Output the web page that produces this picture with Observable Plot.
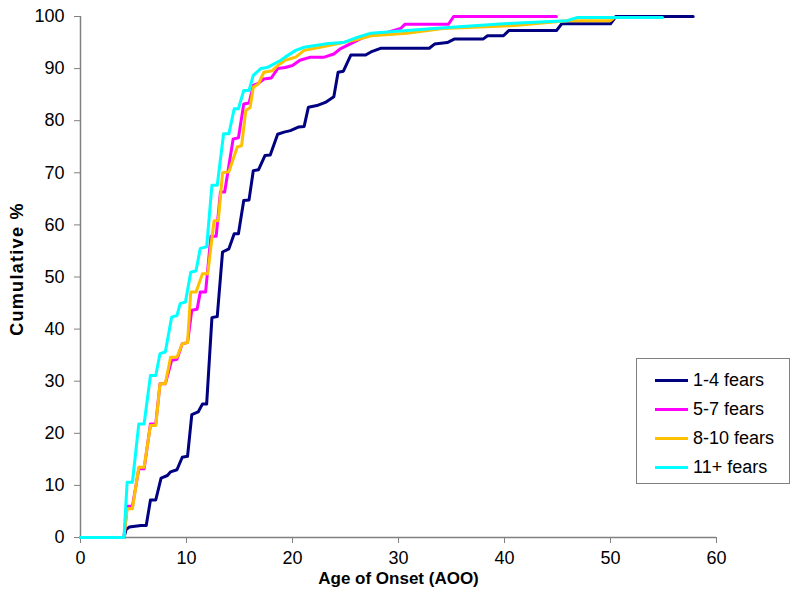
<!DOCTYPE html>
<html>
<head>
<meta charset="utf-8">
<script src="https://cdn.jsdelivr.net/npm/d3@7"></script>
<script src="https://cdn.jsdelivr.net/npm/@observablehq/plot@0.6"></script>
<style>
  body { margin: 0; background: #fff; font-family: Arial, "Liberation Sans", sans-serif; }
  #wrap { position: relative; width: 800px; height: 611px; }
  #legend { position: absolute; left: 636px; top: 358px; width: 154px; height: 126px; border: 1px solid #808080; background: #fff; box-sizing: border-box; padding-top: 7px; }
  .item { display: flex; align-items: center; height: 29px; }
  .sw { width: 33px; height: 3px; margin-left: 18px; margin-right: 5px; }
  .lab { font-size: 18px; color: #000; }
</style>
</head>
<body>
<div id="wrap"></div>
<script>
// Series names and colours
const seriesNames = ["1-4 fears", "5-7 fears", "8-10 fears", "11+ fears"];
const seriesColors = ["#000080", "#FF00FF", "#FFC000", "#00FFFF"];

// Tick labels
const xTicks = [0, 10, 20, 30, 40, 50, 60];
const yTicks = [0, 10, 20, 30, 40, 50, 60, 70, 80, 90, 100];

// 1-4 fears
const age1 = [0,4.1,4.3,4.6,5.7,6.2,6.6,7.1,7.6,8.2,8.5,9.1,9.6,10.1,10.5,11.1,11.5,11.9,12.4,12.9,13.4,14.0,14.5,14.9,15.4,15.9,16.3,16.8,17.4,17.9,18.6,19.2,19.8,20.6,21.1,21.5,22.3,23.1,23.9,24.3,24.8,25.5,26.9,27.4,28.3,32.9,33.4,34.6,35.3,38.0,38.4,39.9,40.4,44.9,45.4,50.0,50.5,57.8];
const pct1 = [0,0,1.5,2.0,2.3,2.3,7.2,7.2,11.4,11.9,12.6,13.0,15.4,15.6,23.6,24.1,25.6,25.6,42.2,42.4,54.8,55.4,58.3,58.3,64.7,64.8,70.4,70.6,73.3,73.4,77.4,77.8,78.1,78.8,78.9,82.6,82.9,83.5,84.6,89.3,89.5,92.6,92.6,93.2,93.9,93.9,94.7,95.0,95.7,95.7,96.3,96.3,97.3,97.3,98.6,98.6,100,100];

// 5-7 fears
const age2 = [0,4.1,4.4,4.9,5.5,6.0,6.6,7.1,7.5,8.0,8.6,9.1,9.6,10.1,10.5,11.0,11.3,11.8,12.3,12.8,13.2,13.6,14.4,14.9,15.4,15.9,16.3,16.8,17.3,18.0,18.6,19.3,20.0,20.7,21.7,23.0,23.9,24.5,25.5,26.4,27.4,29.0,30.2,30.6,34.7,35.2,44.9];
const pct2 = [0,0,6.0,6.0,13.2,13.2,21.8,21.8,29.5,29.5,34.0,34.2,37.2,37.4,43.6,43.8,47.1,47.1,57.8,57.8,66.3,66.3,76.5,76.7,83.2,83.4,86.8,87.2,88.0,88.2,90.0,90.2,90.6,91.6,92.2,92.2,92.8,93.8,94.8,95.7,96.6,97.0,97.7,98.5,98.5,100,100];

// 8-10 fears
const age3 = [0,4.1,4.4,4.9,5.5,6.0,6.6,7.1,7.5,8.0,8.5,9.1,9.6,10.1,10.4,10.9,11.5,12.0,12.6,13.0,13.4,14.0,14.8,15.2,15.6,16.0,16.3,16.8,17.3,18.1,18.6,19.3,20.3,21.1,22.6,24.8,26.4,27.4,30.8,34.2,41.2,45.9,50.0,50.3];
const pct3 = [0,0,5.5,5.5,13.5,13.5,21.5,21.5,29.5,29.5,34.6,34.6,37.2,37.4,47.1,47.1,50.6,50.6,60.8,60.8,70.0,70.2,75.0,75.2,82.0,82.5,86.4,87.1,89.3,89.6,90.6,91.6,92.2,93.5,94.1,95.0,95.7,96.3,96.8,97.7,98.3,99.2,99.2,99.7];

// 11+ fears
const age4 = [0,4.1,4.4,4.9,5.5,6.0,6.6,7.1,7.5,8.0,8.6,9.1,9.4,9.9,10.4,10.9,11.3,11.9,12.4,12.9,13.5,14.0,14.5,14.9,15.4,15.9,16.3,17.0,17.6,18.9,19.3,20.3,21.1,22.0,23.4,24.8,26.1,27.4,33.3,39.9,45.9,46.9,54.9];
const pct4 = [0,0,10.6,10.6,21.8,21.8,31.1,31.1,35.3,35.6,42.3,42.6,44.9,45.2,50.9,51.2,55.5,55.8,67.6,67.6,77.5,77.5,82.3,82.3,85.8,85.8,88.7,90.0,90.2,91.6,92.2,93.5,94.1,94.4,94.8,95.0,96.0,96.8,97.7,98.6,99.2,99.8,99.8];

const ages = [age1, age2, age3, age4];
const pcts = [pct1, pct2, pct3, pct4];
const rows = seriesNames.flatMap((s, i) => ages[i].map((a, j) => ({series: s, age: a, pct: pcts[i][j]})));

const chart = Plot.plot({
  width: 800,
  height: 611,
  marginLeft: 80,
  marginRight: 84,
  marginTop: 16,
  marginBottom: 74,
  style: { fontFamily: "Arial, 'Liberation Sans', sans-serif", fontSize: "18px", color: "#000", background: "#fff" },
  x: { domain: [0, 60] },
  y: { domain: [0, 100] },
  color: { domain: seriesNames, range: seriesColors },
  marks: [
    Plot.axisX({ ticks: xTicks, tickSize: 6, tickPadding: 8, stroke: "#808080", label: null, fontSize: 18 }),
    Plot.axisY({ ticks: yTicks, tickSize: 6, tickPadding: 10, stroke: "#808080", label: null, fontSize: 18 }),
    Plot.ruleY([0], { stroke: "#808080", strokeWidth: 1.5 }),
    Plot.ruleX([0], { stroke: "#808080", strokeWidth: 1.5 }),
    Plot.line(rows, { x: "age", y: "pct", z: "series", stroke: "series", strokeWidth: 3, curve: "linear" }),
    Plot.text(["Age of Onset (AOO)"], { frameAnchor: "bottom", textAnchor: "middle", lineAnchor: "middle", dy: 41, fontWeight: "bold", fontSize: 17 }),
    Plot.text(["Cumulative %"], { frameAnchor: "left", textAnchor: "middle", lineAnchor: "middle", rotate: -90, dx: -63, dy: -8, fontWeight: "bold", fontSize: 18 })
  ]
});

d3.select(chart).selectAll("text")
  .filter(function () { return this.textContent === "Cumulative %"; })
  .attr("letter-spacing", "1.3px");

const wrap = document.getElementById("wrap");
wrap.appendChild(chart);

const legend = document.createElement("div");
legend.id = "legend";
seriesNames.forEach((s, i) => {
  const it = document.createElement("div");
  it.className = "item";
  const sw = document.createElement("div");
  sw.className = "sw";
  sw.style.background = seriesColors[i];
  const lb = document.createElement("span");
  lb.className = "lab";
  lb.textContent = s;
  it.appendChild(sw);
  it.appendChild(lb);
  legend.appendChild(it);
});
wrap.appendChild(legend);
</script>
</body>
</html>
